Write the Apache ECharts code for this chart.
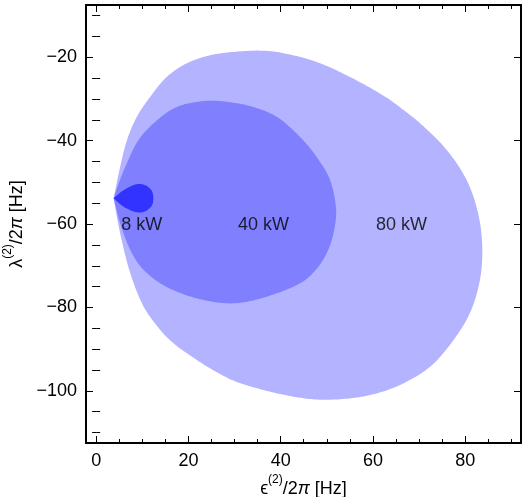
<!DOCTYPE html>
<html>
<head>
<meta charset="utf-8">
<script src="https://cdn.jsdelivr.net/npm/echarts@6/dist/echarts.min.js"></script>
<style>html,body{margin:0;padding:0;background:#fff}#c{width:523px;height:497px}</style>
</head>
<body>
<div id="c"></div>
<script>
// Boundary of each region, [epsilon/2pi, lambda/2pi] in Hz; starts and ends at the cusp
const region80 = [
  [3.8,-53.8],[5.2,-46.3],[6.7,-39.8],[8.8,-34.3],[11.7,-29.5],[15.3,-24.7],[19.7,-21.4],
  [24.7,-19.5],[29.8,-18.7],[35.5,-18.4],[40.6,-19.0],[47.8,-21.1],[55.0,-24.7],[62.3,-29.2],
  [67.3,-33.2],[70.9,-36.5],[76.0,-42.2],[80.3,-49.4],[82.8,-57.4],[83.7,-65.5],[83.2,-73.4],
  [81.0,-81.4],[77.0,-88.5],[72.4,-94.2],[66.6,-98.2],[60.8,-100.6],[55.0,-101.8],[48.5,-102.1],
  [42.8,-101.4],[36.3,-99.8],[30.1,-97.7],[24.7,-94.6],[19.7,-91.0],[16.8,-88.6],
  [13.9,-85.4],[10.3,-79.8],[7.4,-71.8],[5.2,-62.2],[3.8,-53.8]
];
const region40 = [
  [3.8,-53.8],[4.6,-51.1],[6.3,-46.3],[9.2,-39.8],[13.2,-35.1],[17.5,-31.9],[22.5,-30.6],
  [26.9,-30.5],[33.4,-31.7],[39.2,-34.3],[44.2,-39.1],[47.8,-43.9],[50.7,-49.4],[52.0,-56.2],
  [51.6,-61.4],[50.3,-66.2],[47.9,-70.6],[44.2,-74.2],[37.0,-77.4],[29.8,-79.0],[22.5,-78.0],
  [15.3,-75.1],[10.3,-71.0],[7.4,-66.2],[5.2,-59.8],[3.8,-53.8]
];
const region8 = [
  [3.8,-53.8],[5.9,-51.9],[8.5,-50.5],[10.5,-50.6],[12.0,-51.9],[12.4,-53.8],
  [12.0,-55.7],[10.5,-57.0],[8.5,-57.1],[5.9,-55.8],[3.8,-53.8]
];
const regionNames = ['80 kW','40 kW','8 kW'];
const labelPoints = [[66.2,-60.3,'80 kW'],[36.3,-60.3,'40 kW'],[9.9,-60.3,'8 kW']];
const xMajor = [0,20,40,60,80];
const xMinor = [5,10,15,25,30,35,45,50,55,65,70,75,85,90];
const yMajor = [-100,-80,-60,-40,-20];
const yMinor = [-110,-105,-95,-90,-85,-75,-70,-65,-55,-50,-45,-35,-30,-25,-15,-10];
const xRange = [-2.2, 92.1];
const yRange = [-112.5, -7.45];

const FONT = 'Liberation Sans, Arial, sans-serif';
const fmt = v => v < 0 ? '\u2212' + Math.abs(v) : String(v);

function axisSet(pos, major, minor, withLabels, range) {
  const base = {
    type: 'value', position: pos, min: range[0], max: range[1],
    splitLine: {show:false}
  };
  const a1 = Object.assign({}, base, {
    axisLine: {show:true, onZero:false, lineStyle:{color:'#000', width:2}},
    axisTick: {show:true, inside:true, length:7, customValues: major, lineStyle:{color:'#000', width:1}},
    axisLabel: withLabels ? {show:true, customValues: major, formatter: fmt, color:'#000',
      fontSize:18, fontFamily: FONT, margin:9} : {show:false}
  });
  const a2 = Object.assign({}, base, {
    axisLine: {show:false},
    axisTick: {show:true, inside:true, length:4, customValues: minor, lineStyle:{color:'#000', width:1}},
    axisLabel: {show:false}
  });
  return [a1, a2];
}

const xAxes = axisSet('bottom',xMajor,xMinor,true,xRange).concat(axisSet('top',xMajor,xMinor,false,xRange));
const yAxes = axisSet('left',yMajor,yMinor,true,yRange).concat(axisSet('right',yMajor,yMinor,false,yRange));

xAxes[0].name = '{t|\u03f5}{s|(2)}{t|/2}{p|\u03c0}{t| [Hz]}';
xAxes[0].nameLocation = 'middle';
xAxes[0].nameGap = 31;
xAxes[0].nameMoveOverlap = false;
yAxes[0].name = '{t|\u03bb}{s|(2)}{t|/2}{p|\u03c0}{t| [Hz]}';
yAxes[0].nameLocation = 'middle';
yAxes[0].nameGap = 56;
const nameStyle = {
  color:'#000', fontFamily: FONT, fontSize:18,
  rich: {
    t: {fontSize:18, fontFamily: FONT, color:'#000', lineHeight:24, verticalAlign:'bottom'},
    p: {fontSize:18, fontFamily: FONT, color:'#000', fontStyle:'italic', lineHeight:24, verticalAlign:'bottom'},
    s: {fontSize:12, fontFamily: FONT, color:'#000', lineHeight:24, verticalAlign:'top'}
  }
};
xAxes[0].nameTextStyle = nameStyle;
yAxes[0].nameTextStyle = nameStyle;

// Catmull-Rom through the mapped boundary points (open curve, so the cusp stays sharp)
function smoothOutline(pix) {
  const n = pix.length, out = [];
  const P = i => pix[Math.max(0, Math.min(n - 1, i))];
  for (let i = 0; i < n - 1; i++) {
    const p0 = P(i - 1), p1 = P(i), p2 = P(i + 1), p3 = P(i + 2);
    const c1 = [p1[0] + (p2[0] - p0[0]) / 6, p1[1] + (p2[1] - p0[1]) / 6];
    const c2 = [p2[0] - (p3[0] - p1[0]) / 6, p2[1] - (p3[1] - p1[1]) / 6];
    for (let k = 0; k < 12; k++) {
      const t = k / 12, u = 1 - t;
      out.push([
        u*u*u*p1[0] + 3*u*u*t*c1[0] + 3*u*t*t*c2[0] + t*t*t*p2[0],
        u*u*u*p1[1] + 3*u*u*t*c1[1] + 3*u*t*t*c2[1] + t*t*t*p2[1]
      ]);
    }
  }
  out.push(pix[n - 1]);
  return out;
}

function regionSeries(pts, color, name) {
  return {
    type: 'custom', name: name, xAxisIndex: 0, yAxisIndex: 0,
    data: pts,
    clip: true,
    renderItem: function (params, api) {
      if (params.dataIndex !== 0) return null;
      const pix = pts.map(p => api.coord(p));
      return {type:'polygon', shape:{points: smoothOutline(pix)}, style:{fill: color, stroke: null}};
    },
    silent: true
  };
}

const chart = echarts.init(document.getElementById('c'), null, {renderer:'canvas'});
chart.setOption({
  animation: false,
  grid: {left:86, top:5, width:435, height:438, containLabel:false, outerBoundsMode:'none'},
  xAxis: xAxes,
  yAxis: yAxes,
  series: [
    regionSeries(region80, '#b3b3ff', regionNames[0]),
    regionSeries(region40, '#8080ff', regionNames[1]),
    regionSeries(region8, '#3333ff', regionNames[2]),
    {
      type: 'scatter', xAxisIndex:0, yAxisIndex:0, symbolSize: 0, silent: true,
      data: labelPoints,
      label: {show:true, position:'inside', formatter: p => p.data[2], color:'#000',
        fontSize:18, fontFamily: FONT}
    }
  ]
});
</script>
</body>
</html>
